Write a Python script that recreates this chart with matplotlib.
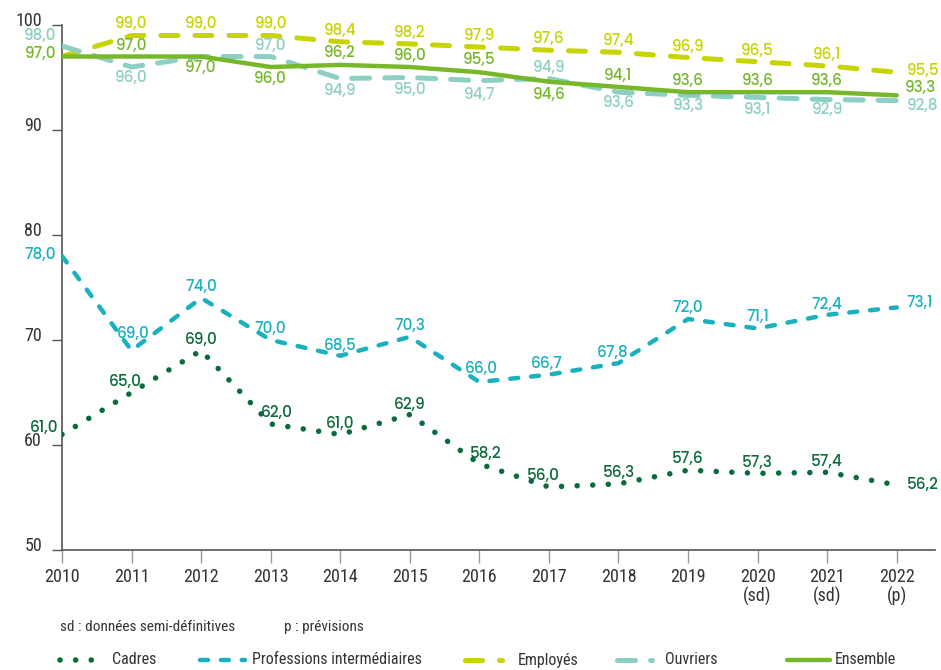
import numpy as np
import matplotlib
matplotlib.use("Agg")
import matplotlib.pyplot as plt
from matplotlib.lines import Line2D
from matplotlib import font_manager
from matplotlib.transforms import ScaledTranslation

# ------------------ DONNEES ------------------

annees = [2010, 2011, 2012, 2013, 2014, 2015, 2016, 2017, 2018, 2019, 2020, 2021, 2022]
etiquettes_x = ["2010", "2011", "2012", "2013", "2014", "2015", "2016", "2017", "2018", "2019",
                "2020\n(sd)", "2021\n(sd)", "2022\n(p)"]
graduations_y = [50, 60, 70, 80, 90, 100]

cadres = [61.0, 65.0, 69.0, 62.0, 61.0, 62.9, 58.2, 56.0, 56.3, 57.6, 57.3, 57.4, 56.2]
prof_inter = [78.0, 69.0, 74.0, 70.0, 68.5, 70.3, 66.0, 66.7, 67.8, 72.0, 71.1, 72.4, 73.1]
employes = [97.0, 99.0, 99.0, 99.0, 98.4, 98.2, 97.9, 97.6, 97.4, 96.9, 96.5, 96.1, 95.5]
ouvriers = [98.0, 96.0, 97.0, 97.0, 94.9, 95.0, 94.7, 94.9, 93.6, 93.3, 93.1, 92.9, 92.8]
ensemble = [97.0, 97.0, 97.0, 96.0, 96.2, 96.0, 95.5, 94.6, 94.1, 93.6, 93.6, 93.6, 93.3]

# ------------------ POLICES ------------------

polices = font_manager.fontManager.ttflist
dispo = {f.name for f in polices}

def choisir(prefs):
    for p in prefs:
        if p in dispo:
            return p
    return "DejaVu Sans"

def choisir_poids(prefs):
    # premiere police qui existe vraiment dans une graisse moyenne
    for p in prefs:
        if any(f.name == p and 500 <= int(f.weight) <= 650 for f in polices):
            return p
    return choisir(prefs)

police_etroite = choisir(["Futura Condensed", "Roboto Condensed", "Archivo Narrow", "PT Sans Narrow",
                          "Open Sans Condensed", "Encode Sans Condensed", "Liberation Sans Narrow",
                          "Pragati Narrow", "Asap Condensed", "Barlow Condensed"])
police_val = choisir_poids(["Jost", "Futura", "League Spartan", "Poppins", "Lato"])

C_CADRES = "#0c6b3b"
C_PROF = "#1ab1bf"
C_EMPL = "#c8d400"
C_OUVR = "#8dcfc4"
C_ENS = "#77b82b"
C_AXE = "#555555"
C_TXT = "#333333"

# decalages des etiquettes en pixels (dx, dy, alignement) ; None = pas d'etiquette
def dessus(n):
    return [(0, 11, "center")] * n

pos_cadres = [(-4, 7, "right"), (10, 10, "right"), (0, 11, "center"), (6, 11, "center"),
              (0, 10, "center"), (0, 10, "center"), (6, 10, "center"), (-6, 11, "center"),
              (0, 11, "center"), (0, 11, "center"), (0, 10, "center"), (0, 10, "center"),
              (10, 0, "left")]
pos_prof = [(-6, 1, "right"), (2, 17, "center"), (0, 11, "center"), (0, 11, "center"),
            (0, 10, "center"), (0, 11, "center"), (2, 13, "center"), (-2, 11, "center"),
            (-6, 10, "center"), (0, 11, "center"), (0, 11, "center"), (0, 10, "center"),
            (10, 4, "left")]
pos_empl = [None] + dessus(11) + [(10, 1, "left")]
pos_ouvr = [(-6, 10, "right"), (0, -11, "center"), None, (0, 11, "center"),
            (0, -12, "center"), (0, -12, "center"), (0, -14, "center"), (0, 11, "center"),
            (0, -11, "center"), (0, -11, "center"), (0, -13, "center"), (0, -10, "center"),
            (10, -5, "left")]
pos_ens = [(-6, 2, "right"), (0, 11, "center"), (0, -11, "center"), (0, -12, "center"),
           (0, 12, "center"), (0, 11, "center"), (0, 12, "center"), (0, -13, "center"),
           (0, 11, "center"), (0, 11, "center"), (0, 11, "center"), (0, 11, "center"),
           (8, 7, "left")]

series = [
    ("Cadres", cadres, C_CADRES, dict(lw=4.0, dashes=(0.01, 2.8), dash_capstyle="round"), pos_cadres),
    ("Professions intermédiaires", prof_inter, C_PROF, dict(lw=3.2, dashes=(1.8, 2.9), dash_capstyle="round"), pos_prof),
    ("Employés", employes, C_EMPL, dict(lw=3.6, dashes=(3.4, 3.4), dash_capstyle="round"), pos_empl),
    ("Ouvriers", ouvriers, C_OUVR, dict(lw=3.6, dashes=(3.6, 3.0), dash_capstyle="round"), pos_ouvr),
    ("Ensemble", ensemble, C_ENS, dict(lw=3.2, solid_capstyle="round"), pos_ens),
]

# ------------------ FIGURE ------------------

W, H = 941, 670
fig = plt.figure(figsize=(W / 100, H / 100), dpi=100)
ax = fig.add_axes([62 / W, 1 - 550 / H, (935 - 62) / W, (550 - 25) / H])

px = 0.72  # 1 pixel en points
for nom, vals, col, style, pos in series:
    ax.plot(annees, vals, color=col, zorder=3, **style)
    for x, v, p in zip(annees, vals, pos):
        if p is None:
            continue
        dx, dy, ha = p
        ax.annotate(f"{v:.1f}".replace(".", ","), (x, v), xytext=(dx * px, dy * px),
                    textcoords="offset points", ha=ha, va="center", color=col,
                    fontsize=11, fontweight=500, family=police_val, zorder=4)

ax.set_xlim(2010, 2022.55)
ax.set_ylim(50, 100)
ax.set_yticks(graduations_y)
ax.set_xticks(annees)
ax.set_xticklabels(etiquettes_x, family=police_etroite, fontsize=13, color=C_TXT,
                   linespacing=1.05)
ax.tick_params(axis="y", length=7, width=1, color=C_AXE, direction="out", labelleft=False)
ax.tick_params(axis="x", length=9, width=1, color="#999999", pad=4, direction="out")

# etiquettes de l'axe y un peu au-dessus des graduations, comme dans l'original
decal = ScaledTranslation(-20 / 100, 4 / 100, fig.dpi_scale_trans)
for g in graduations_y:
    ax.text(0, g, str(g), transform=ax.get_yaxis_transform() + decal, ha="right",
            va="center", family=police_etroite, fontsize=13, color=C_TXT)

for s in ["top", "right"]:
    ax.spines[s].set_visible(False)
ax.spines["left"].set_color(C_AXE)
ax.spines["left"].set_linewidth(1.2)
ax.spines["bottom"].set_color(C_AXE)
ax.spines["bottom"].set_linewidth(1.2)
ax.set_facecolor("none")

# ------------------ NOTES ET LEGENDE ------------------

fig.text(60 / W, 1 - 627 / H, "sd : données semi-définitives", family=police_etroite,
         fontsize=11, color=C_TXT, va="center")
fig.text(284 / W, 1 - 627 / H, "p : prévisions", family=police_etroite,
         fontsize=11, color=C_TXT, va="center")

leg_x = [(60, 99, 112), (200, 245, 252), (465, 502, 518), (617, 652, 665), (787, 830, 835)]
y_leg = 1 - 660 / H
for (nom, vals, col, style, pos), (x0, x1, xt) in zip(series, leg_x):
    ln = Line2D([x0 / W, x1 / W], [y_leg, y_leg], transform=fig.transFigure, color=col, **style)
    fig.add_artist(ln)
    fig.text(xt / W, y_leg, nom, family=police_etroite, fontsize=11.5, color=C_TXT,
             va="center")

fig.savefig("out.png", dpi=100)
